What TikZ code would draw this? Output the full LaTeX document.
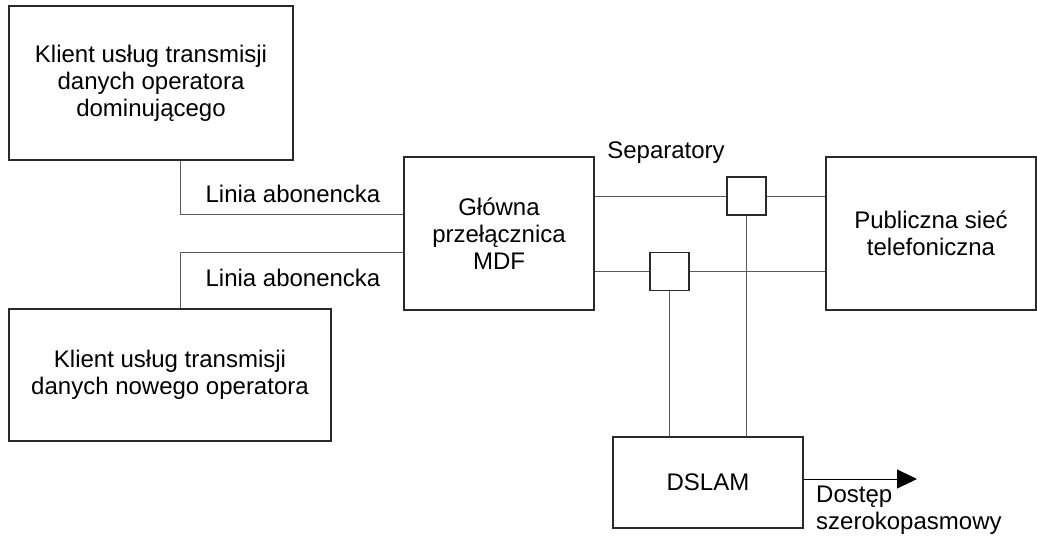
\documentclass[tikz,border=0pt]{standalone}
\usepackage{fontspec}
\setmainfont{Liberation Sans}
\usetikzlibrary{arrows.meta}
\definecolor{boxline}{HTML}{2A2A2A}
\definecolor{wire}{HTML}{5A5A5A}
\begin{document}
\begin{tikzpicture}[x=1pt,y=-1pt,
  every node/.style={font=\fontsize{24}{27}\selectfont, inner sep=0pt},
  blk/.style={draw=boxline, line width=1.2pt, fill=white, align=center},
  sepbox/.style={draw=boxline, line width=1.2pt, fill=white, minimum width=39pt, minimum height=38pt},
  wireline/.style={draw=wire, line width=1pt},
  lbl/.style={align=center}]
\useasboundingbox (0,0) rectangle (1037,536);

\node[blk, minimum width=284pt, minimum height=154pt] (k1) at (151,83)
  {Klient usług transmisji\\danych operatora\\dominującego};
\node[blk, minimum width=322pt, minimum height=132pt] (k2) at (170,375)
  {Klient usług transmisji\\danych nowego operatora};
\node[blk, minimum width=190pt, minimum height=153pt] (mdf) at (499,233.5)
  {Główna\\przełącznica\\MDF};
\node[blk, minimum width=210pt, minimum height=153pt] (pstn) at (931,233.5)
  {Publiczna sieć\\telefoniczna};
\node[blk, minimum width=190pt, minimum height=91pt] (dslam) at (708,482.5)
  {DSLAM};
\node[sepbox] (s1) at (746.5,196) {};
\node[sepbox] (s2) at (669.5,271.5) {};

\coordinate (c1) at (180,214);
\coordinate (c2) at (180,252);
\coordinate (out) at (917,479);

\draw[wireline] (k1.south -| c1) |- (mdf.west |- c1);
\draw[wireline] (k2.north -| c2) |- (mdf.west |- c2);
\draw[wireline] (mdf.east |- s1) -- (s1.west);
\draw[wireline] (s1.east) -- (pstn.west |- s1);
\draw[wireline] (mdf.east |- s2) -- (s2.west);
\draw[wireline] (s2.east) -- (pstn.west |- s2);
\draw[wireline] (s1.south) -- (dslam.north -| s1);
\draw[wireline] (s2.south) -- (dslam.north -| s2);
\draw[draw=black, line width=1pt, -{Triangle[length=20pt,width=19pt]}] (dslam.east |- out) -- (out);

\node[lbl] (l1) at (293,194) {Linia abonencka};
\node[lbl] (l2) at (293,278) {Linia abonencka};
\node[lbl] (sep) at (666,153) {Separatory};
\node[align=left, anchor=west] (dost) at (816,510) {Dostęp\\szerokopasmowy};
\end{tikzpicture}
\end{document}
